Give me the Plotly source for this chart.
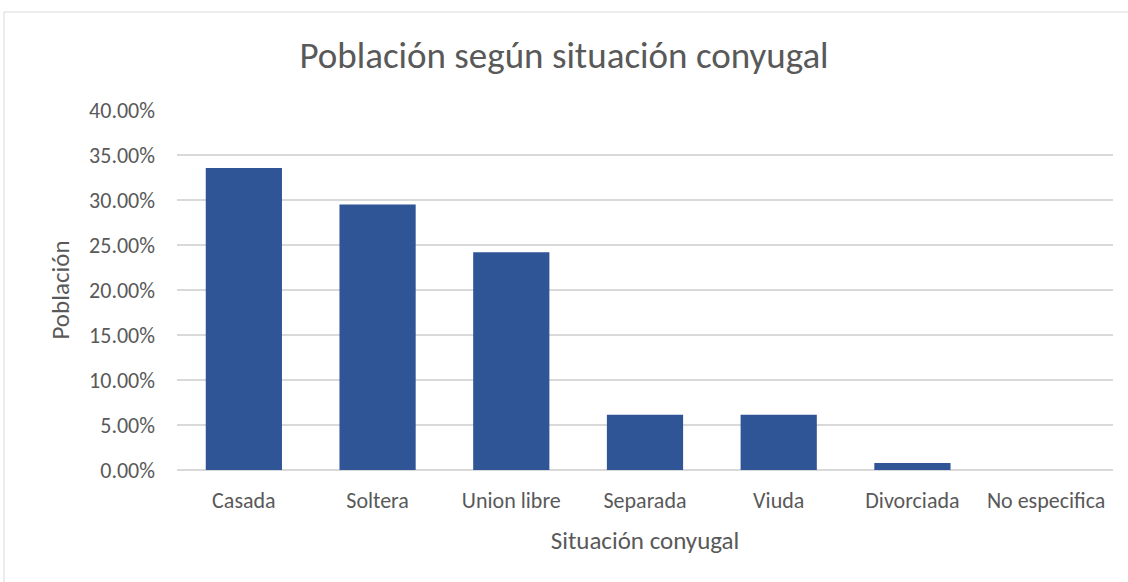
import plotly.graph_objects as go

categories = ["Casada", "Soltera", "Union libre", "Separada", "Viuda", "Divorciada", "No especifica"]
values = [33.55, 29.5, 24.2, 6.15, 6.15, 0.77, 0.0]
y_ticks = [0, 5, 10, 15, 20, 25, 30, 35, 40]
y_tick_labels = ["0.00%", "5.00%", "10.00%", "15.00%", "20.00%", "25.00%", "30.00%", "35.00%", "40.00%"]

FONT = "Carlito, Calibri, Lato, sans-serif"
W, H = 1128, 582
L, R, T, B = 177, 15, 110, 112
pw, ph = W - L - R, H - T - B

fig = go.Figure(go.Bar(
    x=categories, y=values,
    marker=dict(color="#2F5597", line=dict(width=0)),
    hoverinfo="x+y",
))

fig.update_layout(
    width=W, height=H,
    margin=dict(l=L, r=R, t=T, b=B),
    paper_bgcolor="white", plot_bgcolor="white",
    bargap=0.43,
    showlegend=False,
    font=dict(family=FONT, color="#595959"),
    title=dict(text="Población según situación conyugal", x=0.5, xanchor="center",
               y=1 - 55 / H, yanchor="middle",
               font=dict(family=FONT, size=37, color="#595959")),
    xaxis=dict(
        tickfont=dict(size=22, color="#595959"),
        showgrid=False, showline=False, ticks="",
        ticklabelstandoff=15,
        title=dict(text="Situación conyugal", font=dict(size=25, color="#595959"), standoff=18),
    ),
    yaxis=dict(
        range=[0, 40], tickvals=y_ticks, ticktext=y_tick_labels,
        tickfont=dict(size=22, color="#595959"),
        showgrid=True, gridcolor="#d9d9d9", gridwidth=1.5,
        zeroline=True, zerolinecolor="#d9d9d9", zerolinewidth=1.5,
        showline=False, ticks="",
        ticklabelstandoff=21,
        title=dict(text="Población", font=dict(size=25, color="#595959"), standoff=12),
    ),
    shapes=[dict(
        type="rect", xref="paper", yref="paper",
        x0=(4 - L) / pw, x1=(W + 5 - L) / pw,
        y0=(T + ph - (H + 5)) / ph, y1=(T + ph - 12) / ph,
        line=dict(color="#d9d9d9", width=1), fillcolor="rgba(0,0,0,0)", layer="below",
    )],
)

fig.write_html("out.html", config={"displayModeBar": False},
               post_script="document.body.style.margin='0';document.body.style.overflow='hidden';")
